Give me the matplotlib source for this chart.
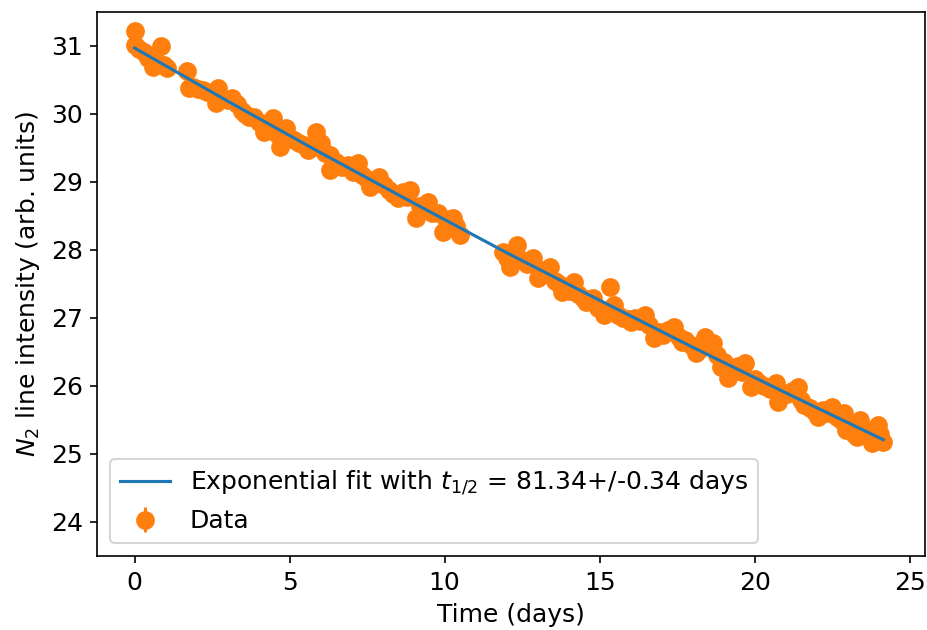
import matplotlib

matplotlib.use("Agg")
import matplotlib.pyplot as plt

TIME_DAYS = [
    0.00, 0.03, 0.15, 0.30, 0.45, 0.58, 0.70, 0.84, 0.95, 1.06,
    1.68, 1.75, 1.90, 2.05, 2.20, 2.35, 2.55, 2.62, 2.70, 2.85,
    3.00, 3.15, 3.30, 3.45, 3.55, 3.68, 3.85, 4.00, 4.16, 4.30,
    4.45, 4.60, 4.70, 4.87, 5.00, 5.15, 5.30, 5.45, 5.58, 5.70,
    5.84, 6.00, 6.15, 6.30, 6.32, 6.50, 6.70, 6.90, 7.05, 7.20,
    7.35, 7.50, 7.60, 7.75, 7.87, 8.05, 8.20, 8.35, 8.50, 8.65,
    8.80, 8.90, 9.07, 9.20, 9.30, 9.45, 9.60, 9.80, 9.94, 10.05,
    10.15, 10.26, 10.38, 10.50,
    11.90, 12.00, 12.10, 12.20, 12.35, 12.50, 12.65, 12.85, 13.00, 13.10,
    13.25, 13.40, 13.55, 13.70, 13.80, 13.95, 14.05, 14.16, 14.30, 14.45,
    14.55, 14.70, 14.80, 14.95, 15.13, 15.25, 15.35, 15.45, 15.60, 15.75,
    15.90, 16.00, 16.15, 16.30, 16.48, 16.60, 16.74, 16.90, 17.05, 17.20,
    17.40, 17.55, 17.65, 17.77, 17.95, 18.10, 18.25, 18.40, 18.55, 18.65,
    18.80, 18.90, 19.00, 19.13, 19.30, 19.45, 19.60, 19.70, 19.87, 20.00,
    20.15, 20.30, 20.50, 20.68, 20.77, 20.90, 21.05, 21.20, 21.40, 21.50,
    21.60, 21.80, 21.95, 22.06, 22.20, 22.35, 22.50, 22.65, 22.80, 22.87,
    22.94, 23.10, 23.20, 23.30, 23.40, 23.55, 23.70, 23.80, 23.90, 23.97,
    24.05, 24.15,
]
INTENSITY = [
    31.22, 31.01, 30.95, 30.91, 30.82, 30.69, 30.78, 31.00, 30.72, 30.68,
    30.63, 30.38, 30.40, 30.36, 30.35, 30.33, 30.30, 30.16, 30.38, 30.22,
    30.20, 30.24, 30.15, 30.05, 30.00, 29.96, 29.95, 29.88, 29.74, 29.85,
    29.94, 29.70, 29.51, 29.80, 29.65, 29.62, 29.58, 29.55, 29.47, 29.50,
    29.74, 29.57, 29.42, 29.40, 29.18, 29.30, 29.22, 29.25, 29.15, 29.28,
    29.10, 29.05, 28.93, 29.00, 29.07, 28.95, 28.88, 28.82, 28.76, 28.85,
    28.78, 28.88, 28.47, 28.65, 28.60, 28.70, 28.55, 28.54, 28.27, 28.45,
    28.40, 28.47, 28.35, 28.22,
    27.97, 27.88, 27.75, 27.92, 28.07, 27.85, 27.80, 27.88, 27.59, 27.70,
    27.65, 27.75, 27.55, 27.50, 27.38, 27.45, 27.40, 27.53, 27.35, 27.30,
    27.24, 27.28, 27.30, 27.15, 27.04, 27.12, 27.46, 27.19, 27.05, 27.00,
    26.98, 26.94, 27.00, 26.95, 27.04, 26.90, 26.70, 26.80, 26.75, 26.82,
    26.87, 26.72, 26.65, 26.68, 26.60, 26.49, 26.55, 26.72, 26.60, 26.63,
    26.45, 26.28, 26.35, 26.12, 26.25, 26.30, 26.20, 26.34, 25.99, 26.10,
    26.05, 26.00, 25.95, 26.04, 25.76, 25.90, 25.88, 25.92, 25.99, 25.80,
    25.72, 25.68, 25.62, 25.55, 25.65, 25.60, 25.69, 25.55, 25.50, 25.60,
    25.35, 25.40, 25.30, 25.25, 25.50, 25.35, 25.28, 25.16, 25.22, 25.43,
    25.30, 25.18,
]
INTENSITY_ERR = 0.05

# exponential fit curve
FIT_TIME = [0.0, 3.0, 6.0, 9.0, 12.0, 15.0, 18.0, 21.0, 24.15]
FIT_VALUE = [30.97, 30.19, 29.43, 28.69, 27.96, 27.26, 26.57, 25.90, 25.21]

HALF_LIFE = 81.34
HALF_LIFE_ERR = 0.34


def main() -> None:
    plt.rcParams["font.size"] = 12
    fig = plt.figure(figsize=(6.18, 4.2), dpi=150)
    ax = fig.add_axes([0.105, 0.1175, 0.893, 0.8635])

    ax.errorbar(TIME_DAYS, INTENSITY, yerr=INTENSITY_ERR, fmt="o", color="C1",
                markersize=8, label="Data", zorder=2)
    ax.plot(FIT_TIME, FIT_VALUE, color="C0", linewidth=1.5, zorder=3,
            label=f"Exponential fit with $t_{{1/2}}$ = {HALF_LIFE}+/-{HALF_LIFE_ERR} days")

    ax.set_xlim(-1.2, 25.5)
    ax.set_ylim(23.5, 31.5)
    ax.set_xlabel("Time (days)")
    ax.set_ylabel("$N_2$ line intensity (arb. units)")
    ax.legend(loc="lower left")

    fig.savefig("out.png", dpi=150)
    plt.close(fig)


if __name__ == "__main__":
    main()
